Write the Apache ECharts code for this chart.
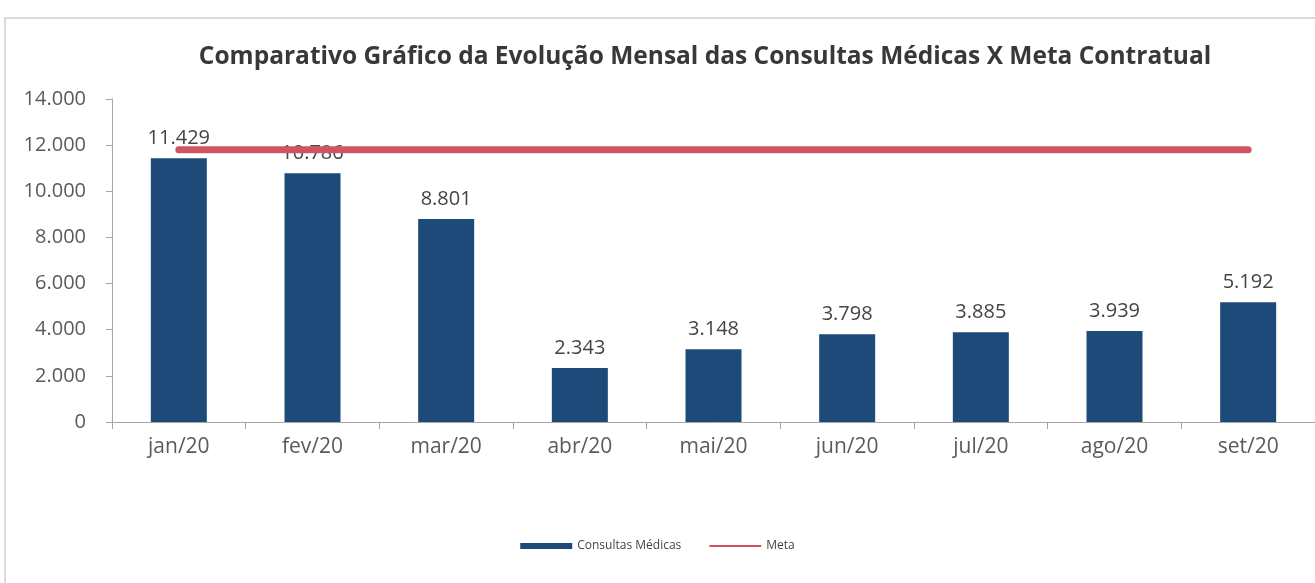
<!DOCTYPE html>
<html><head><meta charset="utf-8">
<script src="https://cdn.jsdelivr.net/npm/echarts@6/dist/echarts.min.js"></script>
<style>html,body{margin:0;padding:0;background:#fff}#c{width:1315px;height:583px}</style>
</head><body><div id="c"></div>
<script>
const categories = ['jan/20','fev/20','mar/20','abr/20','mai/20','jun/20','jul/20','ago/20','set/20'];
const consultas = [11429, 10786, 8801, 2343, 3148, 3798, 3885, 3939, 5192];
const meta = [11800, 11800, 11800, 11800, 11800, 11800, 11800, 11800, 11800];
const yTicks = [0, 2000, 4000, 6000, 8000, 10000, 12000, 14000];

const fmt = v => String(v).replace(/\B(?=(\d{3})+(?!\d))/g, '.');
const chart = echarts.init(document.getElementById('c'));
chart.setOption({
  backgroundColor: '#fff',
  animation: false,
  graphic: [{type:'rect', shape:{x:5, y:18, width:1330, height:600}, style:{fill:'none', stroke:'#d0d0d0', lineWidth:1.5}, z:-1}],
  title: {
    text: 'Comparativo Gráfico da Evolução Mensal das Consultas Médicas X Meta Contratual',
    left: 700, textAlign: 'center', top: 40,
    textStyle: {fontFamily: '"Open Sans", sans-serif', fontWeight: 'bold', fontSize: 24.5, color: '#383838'}
  },
  legend: {
    bottom: 26, left: 'center', itemGap: 28,
    textStyle: {fontFamily: '"Open Sans", sans-serif', fontSize: 12, color: '#444'},
    data: [
      {name: 'Consultas Médicas', icon: 'rect', itemWidth: 50, itemHeight: 6},
      {name: 'Meta', icon: 'path://M0,0L52,0L52,2L0,2Z', itemWidth: 52, itemHeight: 2}
    ],
    itemWidth: 52, itemHeight: 6
  },
  grid: {left: 112, right: -11, top: 99, bottom: 161, containLabel: false},
  xAxis: {
    type: 'category', data: categories,
    axisLine: {lineStyle: {color: '#a6a6a6'}},
    axisTick: {show: true, length: 7, lineStyle: {color: '#a6a6a6'}},
    axisLabel: {fontFamily: '"Open Sans", sans-serif', fontSize: 21, color: '#5a5a5a', margin: 15}
  },
  yAxis: {
    type: 'value', min: yTicks[0], max: yTicks[yTicks.length-1], interval: 2000,
    splitLine: {show: false},
    axisLine: {show: true, lineStyle: {color: '#a6a6a6'}},
    axisTick: {show: true, length: 6, lineStyle: {color: '#a6a6a6'}},
    axisLabel: {fontFamily: '"Open Sans", sans-serif', fontSize: 20, color: '#5a5a5a', margin: 26, formatter: fmt}
  },
  series: [
    {
      name: 'Consultas Médicas', type: 'bar', data: consultas, barWidth: 56,
      itemStyle: {color: '#1d4a78'},
      label: {show: true, position: 'top', distance: 10, formatter: p => fmt(p.value),
        fontFamily: '"Open Sans", sans-serif', fontSize: 20, color: '#444'},
      z: 2
    },
    {
      name: 'Meta', type: 'line', data: meta, symbol: 'none',
      lineStyle: {color: '#cf5563', width: 7, cap: 'round'},
      itemStyle: {color: '#cf5563'},
      z: 3
    }
  ]
});
</script></body></html>
